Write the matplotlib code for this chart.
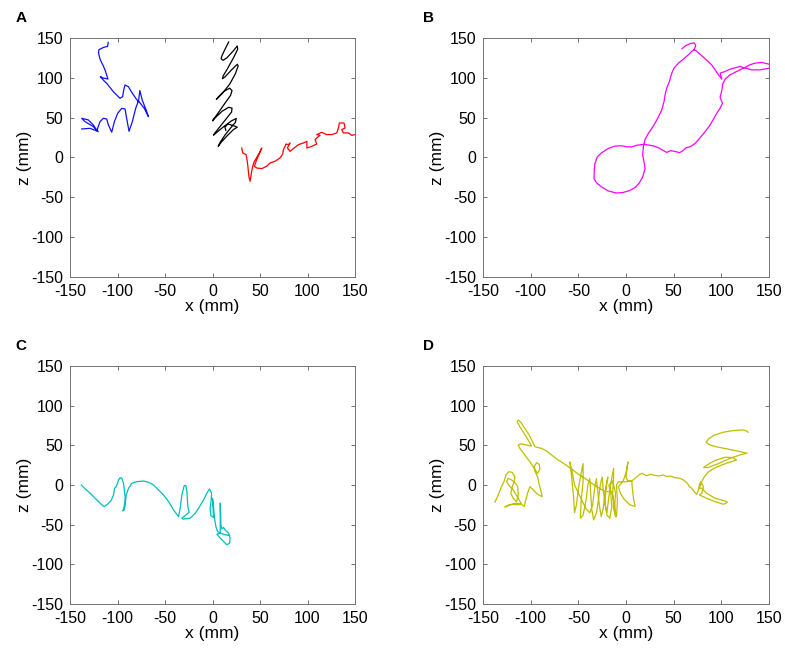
import matplotlib
matplotlib.use("Agg")
import matplotlib.pyplot as plt

plt.rcParams['font.family'] = ['Liberation Sans', 'DejaVu Sans']
plt.rcParams['axes.unicode_minus'] = False

# Panel A: three hand trajectories (x, z in mm)
blue_x = [-109.8, -110.5, -114.7, -119.6, -120, -118.2, -114.7, -112.6, -111.2, -110, -116, -118, -114,
          -111.4, -104.4, -97.4, -94.6, -93.5, -92.1, -88.6, -84.4, -80, -78, -76.5, -74, -70, -67.5,
          -72, -78, -80.9, -84.4, -87.9, -90.4, -92.1, -95.6, -99.8, -103.3, -106.1, -109.6, -111.4,
          -114.9, -118.4, -121.9, -125.4, -130.7, -137.7, -134.2, -125.4, -120.2, -128.9, -137.7]
blue_z = [144.5, 139.5, 138.2, 135.3, 131, 122.7, 114.3, 108, 102.5, 98.5, 100, 101.5, 96,
          93.1, 82.6, 74.3, 76.4, 84.7, 91, 88.9, 80.6, 73, 70, 84, 72, 60, 51.3,
          62, 71, 61.7, 45, 32.8, 49.2, 60.9, 61.7, 55.5, 45, 31.8, 40.8, 48.3,
          49.2, 45, 33.6, 40.8, 47.1, 49.2, 45, 38.7, 32.5, 36.6, 35.8]

black_x = [17, 14, 10, 9, 11, 15, 22, 26, 26.5, 22, 15, 11, 10.5, 13, 20, 26, 27, 24, 18, 10, 5, 4,
           6, 12, 18, 20.5, 19, 13, 6, 1, 0, 3, 10, 17, 20.5, 20, 14, 8, 2, 1, 4, 12, 20, 25, 24,
           19, 13, 8, 6, 9, 16, 22, 26, 22, 16, 13, 14]
black_z = [145, 138, 128, 124, 122, 125, 134, 140, 136, 125, 110, 102, 99, 101, 110, 117, 115, 105,
           92, 80, 74, 73, 76, 83, 87, 84, 78, 68, 56, 48, 46, 50, 58, 63, 62, 57, 48, 39, 30, 28,
           31, 39, 46, 49, 44, 37, 28, 19, 14, 19, 28, 35, 38, 40, 42, 38, 34]

red_x = [30.7, 31.8, 35.3, 36, 37, 37.7, 38.4, 39.5, 40.2, 41.2, 42.3, 43.7, 45.8, 49.3, 51.8, 46.5,
         44, 46.5, 51.8, 57, 60.5, 65.8, 71, 73.9, 74.6, 76.3, 77.4, 79.8, 81.6, 78.8, 81.6, 85.8,
         90.4, 95.6, 99.3, 99.3, 104.4, 109.7, 107.9, 110.4, 113.2, 109.7, 114.9, 120.2, 125.4,
         130.7, 132.5, 133.5, 138.4, 139.5, 136, 137.7, 143, 146.5, 150]
red_z = [11.9, 5.7, 3.6, -0.6, -9, -17.4, -24.9, -29.9, -24.9, -17.4, -11, -5.6, -1.5, 5.7, 11.9, -2.7,
         -11, -13.2, -14, -11, -6.9, -4.8, -0.6, 4.4, 9.8, 14, 16.9, 16.1, 18.2, 11.9, 7.7, 11.9,
         16.1, 18.2, 20.3, 11.9, 14, 16.9, 22.4, 25.3, 27.8, 28.7, 31.6, 28.7, 28.7,
         30.8, 37, 43.3, 43.3, 37, 35, 30.8, 30.8, 27.8, 28.7]

# Panel B
mag_x = [58.8, 63, 68.3, 71.8, 73.2, 71.4, 73.5, 79.5, 85.4, 90, 93.5, 97, 100.5, 98.7, 104, 109.2,
         114.5, 119.7, 125, 132, 140.7, 152, 152, 142.5, 135.5, 130.2, 123.2, 116.2, 109.2, 104,
         101.5, 100.5, 98.7, 101.2, 98.7, 95.2, 91.7, 88.2, 83, 77.7, 72.5, 67.2, 63, 59.5, 56,
         53.2, 49.7, 46.2, 42.7, 38.5, 34, 29.4, 24.5, 18.2, 11.9, 6, 0.7, -4.6, -11.6, -18.6,
         -25.6, -30.1, -32.6, -33.3, -33.6, -30.8, -25.6, -18.6, -10.5, -3.5, 3.5, 9.5, 14, 17.5,
         20, 18.9, 17.5, 18.2, 20, 23.5, 28.7, 33.3, 37.5, 39.9, 41, 42.7, 45.5, 48, 50.4, 55,
         60.2, 65.5, 69, 71.4]
mag_z = [136.6, 140.8, 143.3, 143.7, 140.3, 135.3, 134, 127.7, 121.4, 116, 110, 103.8, 98.3, 105.9, 108, 110.9,
         112.6, 114.3, 112.2, 110, 110, 112.5, 116.6, 119.3, 118.5, 116.4, 112.2, 108, 103.8, 98.3,
         92.4, 84, 75.6, 68.1, 61.8, 55.5, 47.9, 40.8, 32.4, 24.8, 17.6, 13.4, 12.2, 8.4, 5.9,
         7.1, 8, 8.4, 6.3, 9.2, 12.2, 14.3, 15.5, 16.4, 15.5, 13.4, 13.4, 14.7, 14.3, 11.3,
         5.9, 0.8, -7.6, -16, -26.5, -31.9, -37, -42, -44.5, -44.1, -41.6, -37.8, -31.9, -24.4,
         -13.9, -5.5, 2.9, 13.4, 22.7, 30.3, 39.5, 49.2, 59.7, 70.2, 78.6, 87, 95.4, 105.9, 112.2, 118.5,
         123.5, 129, 133.2, 135.3]

# Panel C
cyan_x = [-138.2, -134, -128.8, -121.8, -116.5, -114, -110.5, -107, -104.2, -103.2, -101.4, -100, -98.9,
          -97.2, -95.4, -93.7, -92.6, -91.9, -93, -94.4, -93, -91.9, -90.9, -88.4, -84.9, -79.6, -72.6,
          -67.4, -62.1, -56.8, -51.6, -46.3, -41.1, -35.8, -34, -32.3, -29.8, -28.1, -27, -26, -24.6,
          -28.8, -32.3, -31, -23.5, -18.2, -14.7, -9.5, -6, -3.2, -1, -1.4, -2.5, -1.8, 1.1, 0.4, 0,
          1.1, 2.1, 3.5, 5.3, 8.1, 8.1, 8.1, 8.8, 9.8, 11.6, 13.3, 16.8, 18.6, 17.9, 15.1, 11.6, 8.1,
          4.6, 8.1, 13.3, 17.9]
cyan_z = [0, -5, -10.5, -18.9, -25.1, -27.2, -24.3, -20.1, -12.6, -4.2, -2.1, 2.1, 6.3,
          9.2, 8.4, 2.1, -8.4, -16.8, -27.2, -32.7, -31.4, -25.1, -12.6, -4.2, 2.1, 4.2, 5,
          3.4, 0, -6.3, -12.6, -20.9, -31.4, -39.8, -29.3, -12.6, -0.8, -0.8, -8.4, -27.2, -34.4,
          -38.5, -41.9, -43, -41.9, -35.6, -29.3, -18.9, -10.5, -5, -10.5, -18.9, -29.3, -38.5, -41.1, -25.1, -16.8,
          -29.3, -41.9, -52.4, -58.7, -60.7, -41.9, -23, -50.3, -55.3, -53.6, -56.6, -60.7, -67, -73.3, -75.4, -71.2, -67,
          -62, -60.7, -62.8, -63.7]

# Panel D
yel_x = [-137.6, -134, -130.6, -127.8, -126, -122.9, -119.4, -116.6, -117.2, -119.4, -120.8, -118.3, -114.8,
         -113, -113.7, -115.8, -120, -123.6, -125.3, -121.8, -118.3, -113, -110.2, -113, -118.3, -123.6,
         -127.1, -122.9, -114.8, -109.6, -106.8, -105.4, -103.3, -100.8, -97.3, -92.8, -87.9, -89.2,
         -91.4, -92.8, -95.6, -96.3, -93.8, -91, -90.3, -92.8, -96.3, -100.8, -106, -111.3, -113, -110.2,
         -104.3, -99, -102.6, -106.8, -111.3, -114.1, -113, -110.2, -106, -101.5, -98, -95.6, -88.6,
         -83.3, -78, -71, -64, -57, -50, -43, -36, -29, -22,
         -15, -12, -11, -13, -14, -13, -13, -15, -18, -20, -22, -24, -25, -27, -29, -31, -34, -36, -37,
         -38, -40, -42, -45, -48, -47, -45, -45, -47, -50, -52, -54, -55, -57, -59, -57, -54, -50, -46,
         -42, -38, -35, -33, -31, -30, -28, -26, -24, -22, -20, -19, -21, -22, -20, -17, -15, -16, -18,
         -14, -11, -12, -10, -9, -10, -8, 0, 6, 7, 8, 9.5, 4, -2, -6, -8, -3, 0, 2, 1, 0, 2, 6,
         10, 14, 16.5, 21.7, 25.2, 28.7, 34, 39.2, 42.7, 46.2, 51.5, 56.7, 60.2, 64.4, 66.5, 69, 71.4,
         74.2, 76, 77, 78.4, 81.2, 79.5, 77, 84.7, 93.5, 102.2, 106.4, 104, 93.5, 84.7, 79.5, 77,
         79, 82, 86, 92, 100, 108, 116, 112, 104, 95, 88, 83, 81.5, 86, 97, 110, 120, 127,
         118, 106, 95, 87, 84, 87, 93, 102, 112, 122, 127, 128]
yel_z = [-21.8, -12.6, -2.1, 5, 12.6, 16.8, 15.9, 10.5, 4.2, -2.1, -10.5, -16.8, -21,
         -12.6, -2.1, 2.1, 6.3, 8.4, 4.2, -2.1, -6.3, -16.8, -23, -25.1, -24.3, -26,
         -27.7, -25.1, -23, -24.3, -27.2, -20.1, -10.5, -2.1, -6.3, -11.7, -14.7, -7.5,
         2.1, 10.5, 17.6, 23, 28.1, 26, 20.1, 14.7, 20.9, 29.3, 37.7, 46.1, 50.3, 51.9,
         50.3, 49, 56.6, 64.9, 73.3, 79.6, 81.7, 78.8, 71.2, 62.8, 54.5, 48.2, 46.1,
         42.7, 37.7, 31.4, 26, 20.1, 13.4, 8.4, 2.1, -3.4, -8.4,
         -8, -25, -40, -30, -10, 10, 21, 8, -15, -35, -25, -5, 10, 0, -20, -35, -44, -30, -10,
         8, 0, -20, -38, -42, -20, 5, 27, 15, -5, -25, -35, -15, 10, 29, 20, 0, -10, -20,
         -30, -35, -25, -5, 8, -5, -25, -40, -30, -10, 5, 10, -5, -22, -38, -42, -28, -10, 0,
         5, -10, -30, -40, -20, 0, 4, 4, 5, -8, -18, -27, -25, -18, -10, -2, 5, 15, 29, 20, 10, 5, 5,
         9, 13, 14.7, 11.7, 13.4, 12.6, 11.3, 12.6, 10.5, 11.3, 9.2, 8.4, 6.3, 2.1, -2.1, -4.2, -8.4,
         -11.7, -6.3, 0, 4.2, -2.1, -10.5, -12.6, -16.8, -21, -24.3, -21.8, -20.1, -16.8, -10.5, -4.2, -4,
         3, 10, 16, 21, 25, 28.5, 31.5, 34.5, 35, 31.5, 27.5, 23.5, 22, 22, 27, 34, 38, 40,
         42.5, 45.5, 48, 51, 54, 58.5, 63, 66.5, 68.5, 69.5, 68, 66.5]

panels = [
    ('A', [(blue_x, blue_z, '#1010ff'), (black_x, black_z, 'black'), (red_x, red_z, '#ff0000')]),
    ('B', [(mag_x, mag_z, '#ff00ff')]),
    ('C', [(cyan_x, cyan_z, '#00bfbf')]),
    ('D', [(yel_x, yel_z, '#bfbf00')]),
]
positions = [
    [0.0892, 0.5765, 0.3631, 0.3654],
    [0.6153, 0.5765, 0.3643, 0.3654],
    [0.0892, 0.0765, 0.3631, 0.3639],
    [0.6153, 0.0765, 0.3643, 0.3639],
]
letter_pos = [(0.020, 0.983), (0.539, 0.983), (0.020, 0.482), (0.539, 0.482)]

fig = plt.figure(figsize=(7.85, 6.54), dpi=100)
ticks = [-150, -100, -50, 0, 50, 100, 150]

for (letter, lines), pos, lp in zip(panels, positions, letter_pos):
    ax = fig.add_axes(pos)
    for xs, zs, col in lines:
        ax.plot(xs, zs, color=col, lw=0.9)
    ax.set_xlim(-150, 150)
    ax.set_ylim(-150, 150)
    ax.set_xticks(ticks)
    ax.set_yticks(ticks)
    ax.tick_params(direction='in', length=3, width=0.6, colors='0.35', labelcolor='black',
                   labelsize=11.5, top=True, right=True, pad=5)
    for s in ax.spines.values():
        s.set_color('0.45')
        s.set_linewidth(0.7)
    ax.set_xlabel('x (mm)', fontsize=12.5, labelpad=0)
    ax.set_ylabel('z (mm)', fontsize=12.5, labelpad=-1)
    fig.text(lp[0], lp[1], letter, fontsize=11, fontweight='bold', va='top', ha='left')

fig.savefig('out.png', dpi=100)
